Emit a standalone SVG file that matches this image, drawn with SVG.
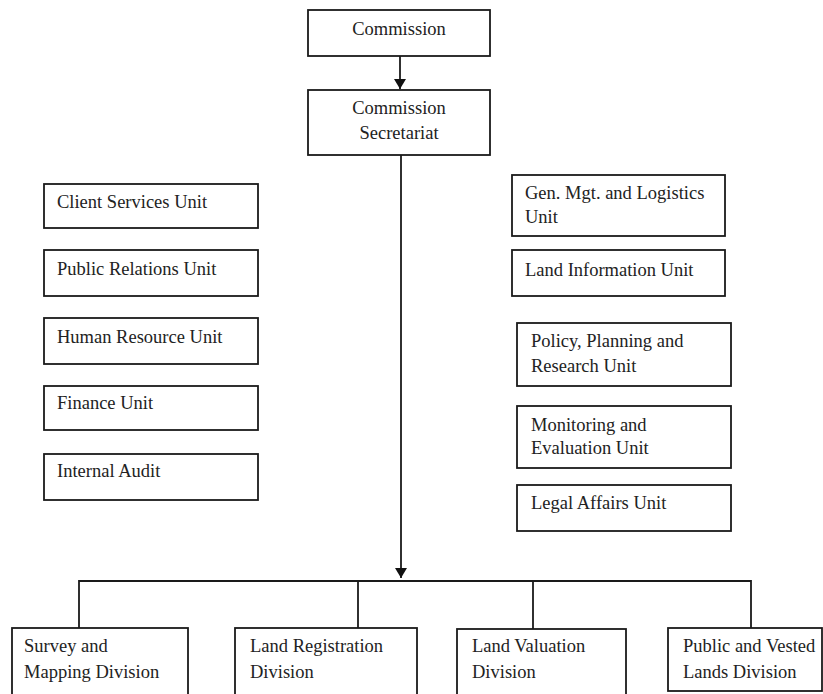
<svg xmlns="http://www.w3.org/2000/svg" width="823" height="694" viewBox="0 0 823 694">
<style>
.box{fill:#fff;stroke:#1a1a1a;stroke-width:1.8}
.t{font-family:"Liberation Serif","Times New Roman",serif;font-size:18.5px;fill:#222}
.c{text-anchor:middle}
.ln{fill:none;stroke:#1a1a1a;stroke-width:1.8}
</style>
<defs>
<marker id="ah" markerWidth="12" markerHeight="12" refX="10" refY="6" orient="auto" markerUnits="userSpaceOnUse">
<path d="M0,0 L10,6 L0,12 Z" fill="#111"/>
</marker>
</defs>
<rect width="823" height="694" fill="#fff"/>
<g id="connectors">
<line class="ln" x1="400" y1="56" x2="400" y2="89" stroke-width="2.4" marker-end="url(#ah)"/>
<line class="ln" x1="401" y1="155" x2="401" y2="578" stroke-width="2.4" marker-end="url(#ah)"/>
<polyline class="ln" points="79,628 79,581 751,581 751,628"/>
<line class="ln" x1="358" y1="581" x2="358" y2="628"/>
<line class="ln" x1="533" y1="581" x2="533" y2="629"/>
</g>
<g id="commission"><rect class="box" x="308" y="10" width="182" height="46"/><text class="t c" x="399" y="35">Commission</text></g>
<g id="secretariat"><rect class="box" x="308" y="90" width="182" height="65"/><text class="t c" x="399" y="114">Commission</text><text class="t c" x="399" y="139">Secretariat</text></g>
<g id="client-services"><rect class="box" x="44" y="184" width="214" height="44"/><text class="t" x="57" y="208">Client Services Unit</text></g>
<g id="public-relations"><rect class="box" x="44" y="250" width="214" height="46"/><text class="t" x="57" y="275">Public Relations Unit</text></g>
<g id="human-resource"><rect class="box" x="44" y="318" width="214" height="46"/><text class="t" x="57" y="343">Human Resource Unit</text></g>
<g id="finance"><rect class="box" x="44" y="386" width="214" height="44"/><text class="t" x="57" y="409">Finance Unit</text></g>
<g id="internal-audit"><rect class="box" x="44" y="454" width="214" height="46"/><text class="t" x="57" y="477">Internal Audit</text></g>
<g id="gen-mgt"><rect class="box" x="512" y="175" width="213" height="61"/><text class="t" x="525" y="199">Gen. Mgt. and Logistics</text><text class="t" x="525" y="223">Unit</text></g>
<g id="land-information"><rect class="box" x="512" y="250" width="213" height="46"/><text class="t" x="525" y="276">Land Information Unit</text></g>
<g id="policy"><rect class="box" x="517" y="323" width="214" height="63"/><text class="t" x="531" y="347">Policy, Planning and</text><text class="t" x="531" y="372">Research Unit</text></g>
<g id="monitoring"><rect class="box" x="517" y="406" width="214" height="62"/><text class="t" x="531" y="431">Monitoring and</text><text class="t" x="531" y="454">Evaluation Unit</text></g>
<g id="legal-affairs"><rect class="box" x="517" y="485" width="214" height="46"/><text class="t" x="531" y="509">Legal Affairs Unit</text></g>
<g id="survey-mapping"><rect class="box" x="12" y="628" width="176" height="80"/><text class="t" x="24" y="652">Survey and</text><text class="t" x="24" y="678">Mapping Division</text></g>
<g id="land-registration"><rect class="box" x="235" y="628" width="182" height="80"/><text class="t" x="250" y="652">Land Registration</text><text class="t" x="250" y="678">Division</text></g>
<g id="land-valuation"><rect class="box" x="457" y="629" width="169" height="80"/><text class="t" x="472" y="652">Land Valuation</text><text class="t" x="472" y="678">Division</text></g>
<g id="public-vested"><rect class="box" x="668" y="628" width="154" height="63"/><text class="t" x="683" y="652">Public and Vested</text><text class="t" x="683" y="678">Lands Division</text></g>
</svg>
